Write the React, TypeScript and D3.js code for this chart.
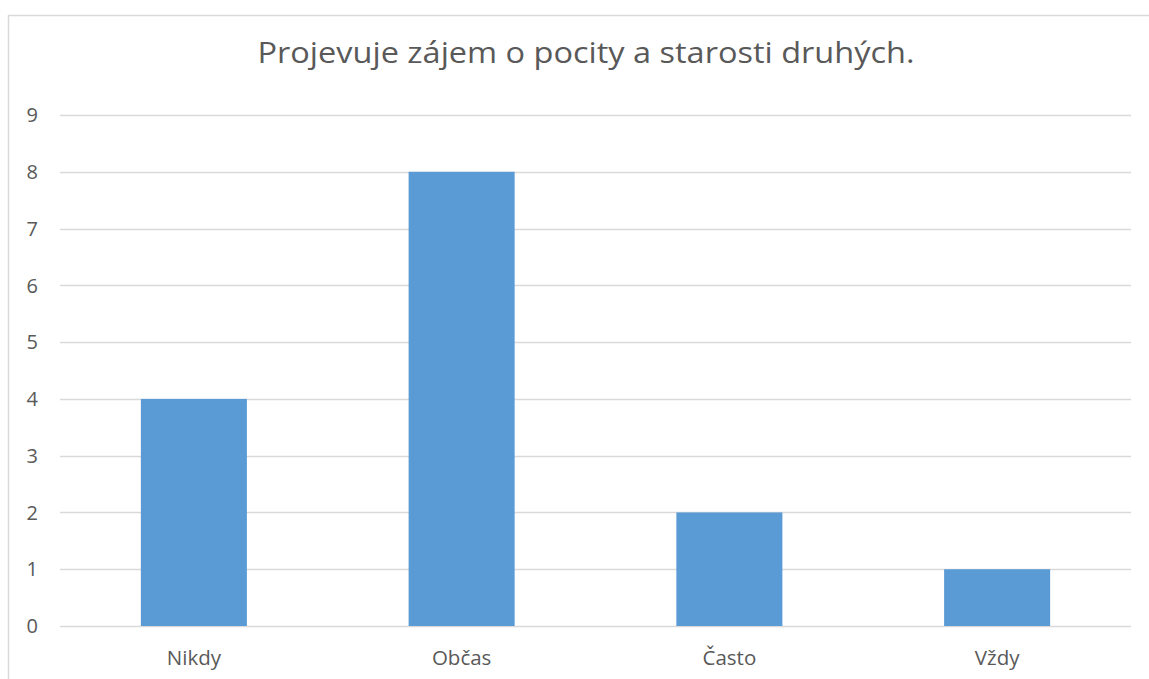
import React from "react";
import * as d3 from "d3";

const categories = ["Nikdy", "Občas", "Často", "Vždy"];
const values = [4, 8, 2, 1];
const yTicks = [0, 1, 2, 3, 4, 5, 6, 7, 8, 9];
const title = "Projevuje zájem o pocity a starosti druhých.";

export default function App() {
  const W = 1149, H = 679;
  const left = 60, right = 1131, top = 115, bottom = 626;
  const x = d3.scaleBand<string>().domain(categories).range([left, right]).paddingInner(0.604).paddingOuter(0.302);
  const y = d3.scaleLinear().domain([0, 9]).range([bottom, top]);
  const font = "'Open Sans', 'Segoe UI', sans-serif";
  const textColor = "#595959";
  return (
    <svg width={W} height={H} style={{ position: "absolute", left: 0, top: 0, background: "#fff" }} fontFamily={font}>
      <path d={`M8.5,${H} V15.5 H${W}`} fill="none" stroke="#D9D9D9" strokeWidth={1.5} />
      <text x={586} y={63} textAnchor="middle" fontSize={30} fill={textColor} textLength={657} lengthAdjust="spacingAndGlyphs">{title}</text>
      {yTicks.map((t) => (
        <g key={t}>
          <line x1={left} x2={right} y1={Math.round(y(t)) + 0.5} y2={Math.round(y(t)) + 0.5} stroke="#D9D9D9" strokeWidth={1.3} />
          <text x={38} y={y(t)} dy="0.36em" textAnchor="end" fontSize={20} fill={textColor}>{t}</text>
        </g>
      ))}
      {categories.map((c, i) => (
        <rect key={c} x={x(c)} y={y(values[i])} width={x.bandwidth()} height={bottom - y(values[i])} fill="#5B9BD5" />
      ))}
      {categories.map((c) => (
        <text key={c} x={(x(c) as number) + x.bandwidth() / 2} y={665} textAnchor="middle" fontSize={20.5} fill={textColor}>{c}</text>
      ))}
    </svg>
  );
}
